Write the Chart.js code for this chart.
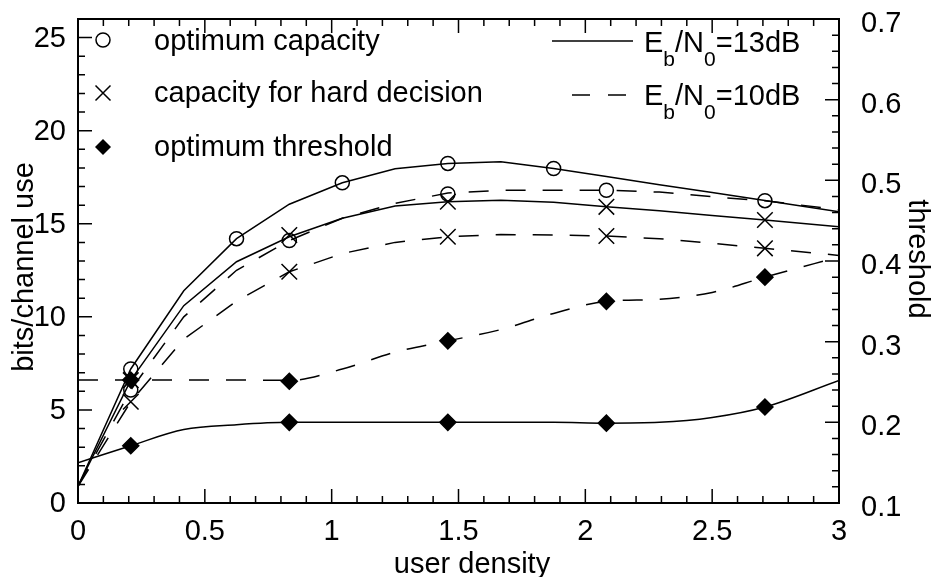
<!DOCTYPE html>
<html>
<head>
<meta charset="utf-8">
<script src="https://cdn.jsdelivr.net/npm/chart.js@4"></script>
<style>
  body { margin: 0; background: #fff; }
  canvas { display: block; }
</style>
</head>
<body>
<canvas id="chart" width="932" height="577"></canvas>
<script>
// user density grid for the curves
const density = [0, 0.208, 0.417, 0.625, 0.833, 1.042, 1.25, 1.458, 1.667, 1.875, 2.083, 2.292, 2.5, 2.708, 3];

// bits/channel use (left axis)
const optCap13  = [0.9, 7.2, 11.4, 14.2, 16.05, 17.2, 17.95, 18.24, 18.33, 17.97, 17.54, 17.1, 16.68, 16.25, 15.65];
const optCap10  = [0.9, 6.07, 10.0, 12.5, 14.1, 15.3, 16.1, 16.65, 16.8, 16.8, 16.8, 16.7, 16.45, 16.24, 15.75];
const hardCap13 = [0.9, 6.6, 10.6, 12.96, 14.3, 15.3, 15.95, 16.18, 16.27, 16.15, 15.91, 15.7, 15.45, 15.2, 14.84];
const hardCap10 = [0.9, 5.44, 8.8, 10.85, 12.42, 13.4, 14.0, 14.3, 14.42, 14.4, 14.34, 14.2, 13.95, 13.68, 13.3];

// optimum threshold (right axis)
const thr13 = [0.15, 0.171, 0.191, 0.197, 0.2, 0.2, 0.2, 0.2, 0.2, 0.2, 0.199, 0.2, 0.206, 0.219, 0.252];
const thr10 = [0.2525, 0.2525, 0.2525, 0.2525, 0.252, 0.266, 0.287, 0.301, 0.315, 0.335, 0.35, 0.3525, 0.361, 0.38, 0.405];

// simulated points (markers)
const markX      = [0.208, 0.833, 1.458, 2.083, 2.708];
const optCap13X  = [0.208, 0.625, 1.042, 1.458, 1.875];
const optCap13Pt = [7.2, 14.2, 17.2, 18.24, 17.97];
const optCap10Pt = [6.07, 14.1, 16.6, 16.8, 16.24];
const hard13Pt   = [6.6, 14.4, 16.18, 15.91, 15.2];
const hard10Pt   = [5.44, 12.42, 14.3, 14.34, 13.68];
const thr13Pt    = [0.171, 0.2, 0.2, 0.199, 0.219];
const thr10Pt    = [0.2525, 0.251, 0.301, 0.35, 0.38];

const FONT = "'Liberation Sans', Arial, sans-serif";
const DASH = [20, 17];

function pts(xs, ys) {
  return xs.map((x, i) => ({ x: x, y: ys[i] }));
}

function curve(ys, axis, dashed, smooth) {
  return {
    data: pts(density, ys),
    yAxisID: axis,
    borderColor: '#000',
    borderWidth: 1.5,
    borderDash: dashed ? DASH : [],
    pointRadius: 0,
    tension: 0,
    cubicInterpolationMode: smooth ? 'monotone' : 'default',
    fill: false
  };
}

function marks(xs, ys, axis, style) {
  const ds = {
    data: pts(xs, ys),
    yAxisID: axis,
    showLine: false,
    borderColor: '#000',
    pointBorderColor: '#000',
    pointBorderWidth: 1.5,
    pointStyle: style
  };
  if (style === 'circle') {
    ds.pointRadius = 7;
    ds.pointBackgroundColor = 'rgba(0,0,0,0)';
  } else if (style === 'crossRot') {
    ds.pointRadius = 11;
  } else {
    ds.pointRadius = 8;
    ds.pointBackgroundColor = '#000';
  }
  return ds;
}

// frame, inward ticks, legend and axis titles
const decor = {
  id: 'decor',
  afterDraw(chart) {
    const { ctx, chartArea: a, scales } = chart;
    ctx.save();
    ctx.strokeStyle = '#000';
    ctx.fillStyle = '#000';
    ctx.lineWidth = 2;
    ctx.strokeRect(a.left, a.top, a.right - a.left, a.bottom - a.top);

    ctx.lineWidth = 1.5;
    ctx.beginPath();
    for (let i = 0; i <= 30; i++) {
      const px = scales.x.getPixelForValue(i / 10);
      const len = i % 5 === 0 ? 14 : 7;
      ctx.moveTo(px, a.bottom); ctx.lineTo(px, a.bottom - len);
      ctx.moveTo(px, a.top); ctx.lineTo(px, a.top + len);
    }
    for (let i = 0; i <= 26; i++) {
      const py = scales.y.getPixelForValue(i);
      const len = i % 5 === 0 ? 14 : 7;
      ctx.moveTo(a.left, py); ctx.lineTo(a.left + len, py);
    }
    for (let i = 5; i <= 35; i++) {
      const py = scales.y2.getPixelForValue(i * 0.02);
      const len = i % 5 === 0 ? 14 : 7;
      ctx.moveTo(a.right, py); ctx.lineTo(a.right - len, py);
    }
    ctx.stroke();

    // legend: markers
    ctx.lineWidth = 1.5;
    ctx.beginPath();
    ctx.arc(103, 40, 7, 0, Math.PI * 2);
    ctx.stroke();
    ctx.beginPath();
    ctx.moveTo(95.5, 85.5); ctx.lineTo(110.5, 100.5);
    ctx.moveTo(110.5, 85.5); ctx.lineTo(95.5, 100.5);
    ctx.stroke();
    ctx.beginPath();
    ctx.moveTo(103, 139); ctx.lineTo(111, 147); ctx.lineTo(103, 155); ctx.lineTo(95, 147);
    ctx.closePath();
    ctx.fill();

    ctx.font = '29px ' + FONT;
    ctx.textAlign = 'left';
    ctx.textBaseline = 'alphabetic';
    ctx.fillText('optimum capacity', 154, 50);
    ctx.fillText('capacity for hard decision', 154, 102);
    ctx.fillText('optimum threshold', 154, 156);

    // legend: line styles
    ctx.beginPath();
    ctx.moveTo(552, 41); ctx.lineTo(633, 41);
    ctx.stroke();
    ctx.setLineDash([18, 18]);
    ctx.beginPath();
    ctx.moveTo(572, 95); ctx.lineTo(628, 95);
    ctx.stroke();
    ctx.setLineDash([]);

    const ebno = (x, base, tail) => {
      const parts = [['E', 0], ['b', 1], ['/N', 0], ['0', 1], [tail, 0]];
      for (const [t, sub] of parts) {
        ctx.font = (sub ? '21px ' : '29px ') + FONT;
        ctx.fillText(t, x, base + (sub ? 14 : 0));
        x += ctx.measureText(t).width;
      }
    };
    ebno(644, 52, '=13dB');
    ebno(644, 105, '=10dB');

    // axis titles
    ctx.font = '29px ' + FONT;
    ctx.textAlign = 'center';
    ctx.fillText('user density', 472, 573);
    ctx.save();
    ctx.translate(33, 267);
    ctx.rotate(-Math.PI / 2);
    ctx.fillText('bits/channel use', 0, 0);
    ctx.restore();
    ctx.save();
    ctx.translate(909, 259);
    ctx.rotate(Math.PI / 2);
    ctx.fillText('threshold', 0, 0);
    ctx.restore();

    ctx.restore();
  }
};

const tickFont = { family: FONT, size: 29 };

function fixBox(w, h) {
  return s => {
    if (w) s.width = w;
    if (h) s.height = h;
    s.paddingTop = 0;
    s.paddingBottom = 0;
    s.paddingLeft = 0;
    s.paddingRight = 0;
  };
}

new Chart(document.getElementById('chart'), {
  type: 'line',
  data: {
    datasets: [
      curve(optCap13, 'y', false, false),
      curve(hardCap13, 'y', false, false),
      curve(optCap10, 'y', true, false),
      curve(hardCap10, 'y', true, false),
      curve(thr13, 'y2', false, true),
      curve(thr10, 'y2', true, true),
      marks(optCap13X, optCap13Pt, 'y', 'circle'),
      marks(markX, optCap10Pt, 'y', 'circle'),
      marks(markX, hard13Pt, 'y', 'crossRot'),
      marks(markX, hard10Pt, 'y', 'crossRot'),
      marks(markX, thr13Pt, 'y2', 'rectRot'),
      marks(markX, thr10Pt, 'y2', 'rectRot')
    ]
  },
  options: {
    responsive: false,
    devicePixelRatio: 1,
    animation: false,
    layout: { padding: { top: 19, left: 0, right: 0, bottom: 0 } },
    plugins: { legend: { display: false }, tooltip: { enabled: false } },
    scales: {
      x: {
        type: 'linear', position: 'bottom', min: 0, max: 3,
        grid: { display: false, drawTicks: false }, border: { display: false },
        ticks: {
          stepSize: 0.5, font: tickFont, color: '#000', padding: 12, maxRotation: 0, autoSkip: false,
          callback: v => String(v)
        },
        afterFit: fixBox(0, 74)
      },
      y: {
        type: 'linear', position: 'left', min: 0, max: 26,
        grid: { display: false, drawTicks: false }, border: { display: false },
        ticks: { stepSize: 5, includeBounds: false, font: tickFont, color: '#000', padding: 12, labelOffset: 1, autoSkip: false },
        afterFit: fixBox(78, 0)
      },
      y2: {
        type: 'linear', position: 'right', min: 0.1, max: 0.7,
        grid: { display: false, drawTicks: false }, border: { display: false },
        ticks: { stepSize: 0.1, font: tickFont, color: '#000', padding: 22, labelOffset: 5, autoSkip: false },
        afterFit: fixBox(93, 0)
      }
    }
  },
  plugins: [decor]
});
</script>
</body>
</html>
